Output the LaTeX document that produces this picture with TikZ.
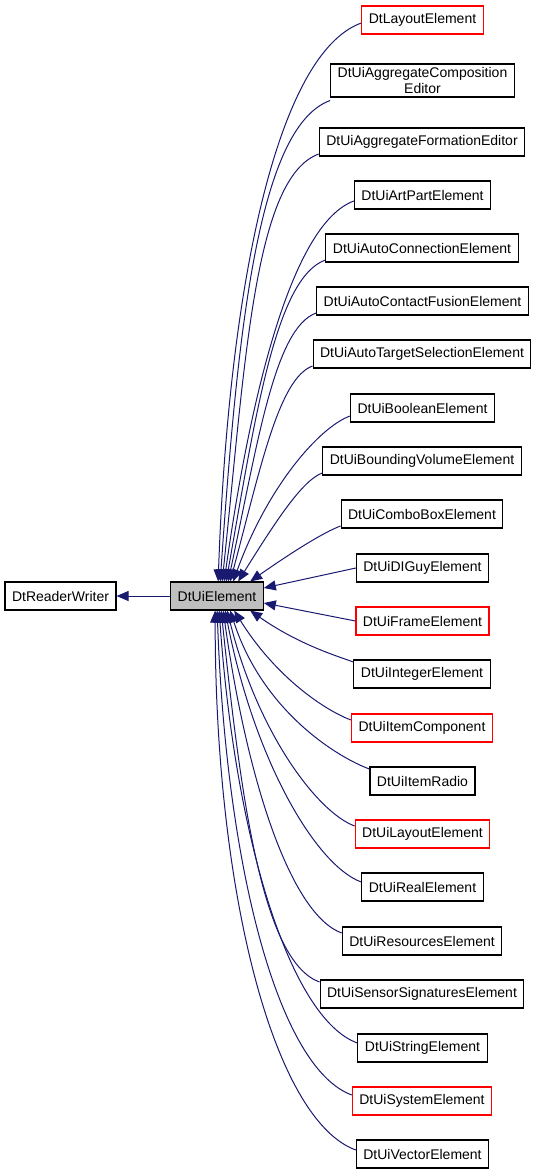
\documentclass[tikz,border=0pt]{standalone}
\usepackage{fontspec}
\setmainfont{Liberation Sans}
\usetikzlibrary{arrows.meta}
\definecolor{edgeblue}{HTML}{191970}
\definecolor{basegray}{HTML}{BFBFBF}
\tikzset{
  cls/.style={draw=black, line width=1.1pt, minimum height=28pt, inner xsep=7pt,
    font=\fontsize{14}{16}\selectfont, align=center},
  clsred/.style={cls, draw=red},
  inherit/.style={draw=edgeblue, line width=1pt, -{Triangle[length=12pt,width=10pt]}},
}

\begin{document}
\begin{tikzpicture}[x=1pt, y=-1pt]
  \useasboundingbox (0,0) rectangle (536,1176);
  % base and derived classes
  \node[cls, fill=basegray] (elem) at (217,596) {DtUiElement};
  \node[cls] (rw) at (60.5,596) {DtReaderWriter};
  \node[clsred] (layout) at (422.5,20) {DtLayoutElement};
  \node[cls] (aggcomp) at (422.5,80.5) {DtUiAggregateComposition\\Editor};
  \node[cls] (aggform) at (422,142) {DtUiAggregateFormationEditor};
  \node[cls] (artpart) at (422.5,195) {DtUiArtPartElement};
  \node[cls] (autoconn) at (422,248) {DtUiAutoConnectionElement};
  \node[cls] (autocontact) at (422.5,301) {DtUiAutoContactFusionElement};
  \node[cls] (autotarget) at (422,354) {DtUiAutoTargetSelectionElement};
  \node[cls] (boolean) at (422.5,408) {DtUiBooleanElement};
  \node[cls] (bounding) at (422,461) {DtUiBoundingVolumeElement};
  \node[cls] (combobox) at (422,514) {DtUiComboBoxElement};
  \node[cls] (diguy) at (422.5,568) {DtUiDIGuyElement};
  \node[clsred] (frameel) at (422.5,621) {DtUiFrameElement};
  \node[cls] (integer) at (422,674) {DtUiIntegerElement};
  \node[clsred] (itemcomp) at (422,728) {DtUiItemComponent};
  \node[cls] (itemradio) at (422.5,781) {DtUiItemRadio};
  \node[clsred] (layoutel) at (422.5,834) {DtUiLayoutElement};
  \node[cls] (real) at (422.5,887) {DtUiRealElement};
  \node[cls] (resources) at (422,941) {DtUiResourcesElement};
  \node[cls] (sensor) at (422,994) {DtUiSensorSignaturesElement};
  \node[cls] (string) at (422.5,1048) {DtUiStringElement};
  \node[clsred] (system) at (422,1101) {DtUiSystemElement};
  \node[cls] (vector) at (422.5,1154) {DtUiVectorElement};

  % inheritance arrows
  \draw[inherit] (elem) -- (rw);
  \foreach \n/\sy/\dx/\ang in {layout/-3/48/88, aggcomp/-20/50/86, aggform/-12/52/84,
      artpart/-6/54/82, autoconn/-12/56/80, autocontact/-12/58/78, autotarget/-12/60/75,
      boolean/-8/63/70, bounding/-12/68/58, combobox/-12/80/35}
    \draw[inherit] ([yshift=\sy pt]\n.west) to[out=200, in=\ang, out looseness=0.4, in looseness=1.3]
      ([xshift=\dx pt]elem.north west);
  \draw[inherit] (diguy.west) -- ([yshift=8pt]elem.east);
  \draw[inherit] (frameel.west) -- ([yshift=-7pt]elem.east);
  \foreach \n/\sy/\dx/\ang in {integer/12/80/-35, itemcomp/8/64/-58, itemradio/12/60/-72,
      layoutel/8/57/-76, real/5/55/-79, resources/8/53/-82, sensor/12/51/-84,
      string/5/49/-86, system/6/47/-88, vector/4/45/-90}
    \draw[inherit] ([yshift=\sy pt]\n.west) to[out=160, in=\ang, out looseness=0.4, in looseness=1.3]
      ([xshift=\dx pt]elem.south west);
\end{tikzpicture}
\end{document}
